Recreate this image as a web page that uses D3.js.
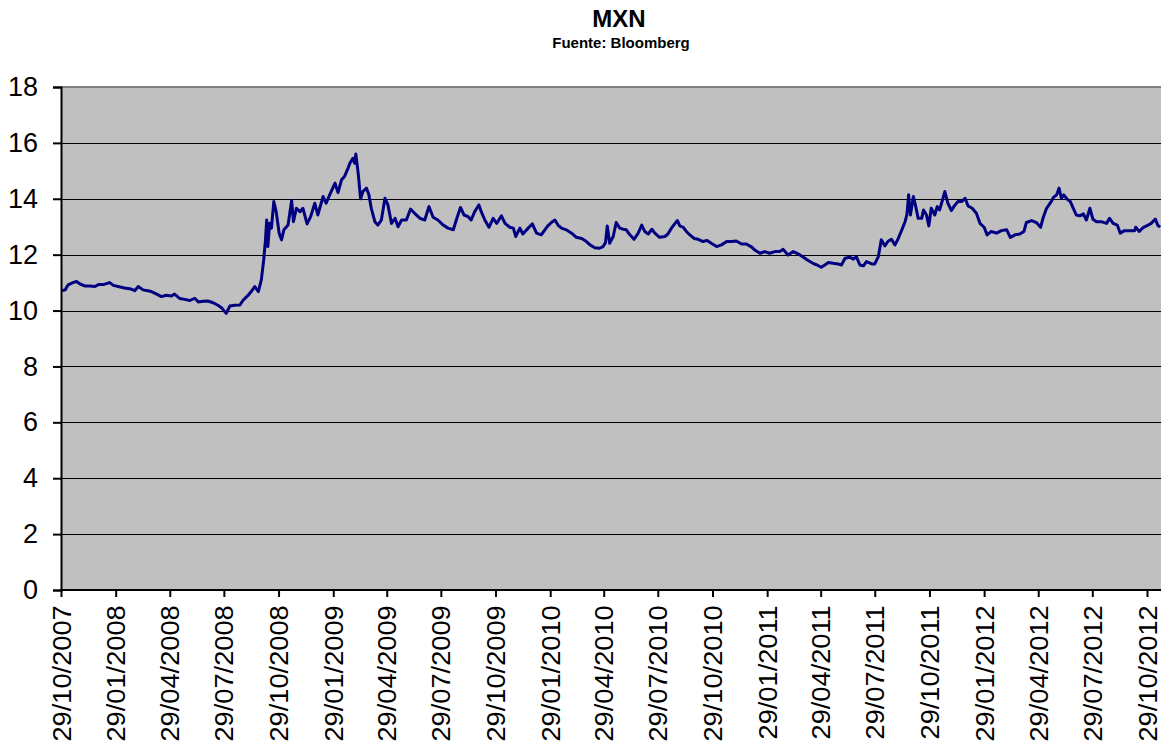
<!DOCTYPE html>
<html>
<head>
<meta charset="utf-8">
<script src="https://cdn.jsdelivr.net/npm/d3@7"></script>
<style>
  body { margin: 0; background: #fff; }
  svg { display: block; font-family: "Liberation Sans", Arial, sans-serif; }
</style>
</head>
<body>
<div id="chart"></div>
<script>

// MXN daily fixing (roughly weekly + peaks)
let dates = [
  "2007-10-29","2007-11-05","2007-11-10","2007-11-18","2007-11-24","2007-11-30","2007-12-08","2007-12-17","2007-12-25","2007-12-31",
  "2008-01-08","2008-01-19","2008-01-25","2008-02-02","2008-02-13","2008-02-24","2008-03-01","2008-03-07","2008-03-15","2008-03-23",
  "2008-03-29","2008-04-07","2008-04-15","2008-04-23","2008-05-02","2008-05-07","2008-05-16","2008-05-24","2008-06-02","2008-06-10",
  "2008-06-16","2008-06-24","2008-07-02","2008-07-11","2008-07-19","2008-07-25","2008-08-02","2008-08-08","2008-08-16","2008-08-25",
  "2008-08-30","2008-09-08","2008-09-13","2008-09-19","2008-09-25","2008-09-30","2008-10-04","2008-10-07","2008-10-09","2008-10-11",
  "2008-10-14","2008-10-17","2008-10-21","2008-10-25","2008-10-30","2008-11-03","2008-11-07","2008-11-14","2008-11-20","2008-11-23",
  "2008-11-28","2008-12-04","2008-12-09","2008-12-16","2008-12-22","2008-12-29","2009-01-03","2009-01-12","2009-01-17","2009-01-23",
  "2009-02-01","2009-02-06","2009-02-12","2009-02-17","2009-02-23","2009-02-26","2009-03-03","2009-03-06","2009-03-08","2009-03-12",
  "2009-03-16","2009-03-20","2009-03-26","2009-03-30","2009-04-03","2009-04-09","2009-04-14","2009-04-20","2009-04-26","2009-05-01",
  "2009-05-07","2009-05-13","2009-05-18","2009-05-24","2009-06-01","2009-06-08","2009-06-15","2009-06-24","2009-07-02","2009-07-09",
  "2009-07-16","2009-07-24","2009-08-02","2009-08-10","2009-08-19","2009-08-24","2009-08-31","2009-09-06","2009-09-13","2009-09-18",
  "2009-09-24","2009-10-01","2009-10-05","2009-10-11","2009-10-18","2009-10-25","2009-10-31","2009-11-08","2009-11-14","2009-11-22",
  "2009-11-28","2009-12-02","2009-12-09","2009-12-14","2009-12-23","2009-12-30","2010-01-06","2010-01-14","2010-01-20","2010-01-25",
  "2010-01-31","2010-02-06","2010-02-11","2010-02-17","2010-02-25","2010-03-06","2010-03-14","2010-03-23","2010-03-31","2010-04-06",
  "2010-04-14","2010-04-22","2010-04-28","2010-05-02","2010-05-05","2010-05-09","2010-05-15","2010-05-20","2010-05-26","2010-06-01",
  "2010-06-06","2010-06-12","2010-06-19","2010-06-26","2010-07-02","2010-07-07","2010-07-13","2010-07-19","2010-07-24","2010-08-01",
  "2010-08-10","2010-08-15","2010-08-21","2010-08-27","2010-08-31","2010-09-04","2010-09-10","2010-09-15","2010-09-21","2010-09-28",
  "2010-10-05","2010-10-13","2010-10-20","2010-10-27","2010-11-05","2010-11-13","2010-11-22","2010-11-30","2010-12-08","2010-12-17",
  "2010-12-25","2011-01-03","2011-01-08","2011-01-17","2011-01-25","2011-02-02","2011-02-11","2011-02-19","2011-02-25","2011-03-05",
  "2011-03-14","2011-03-22","2011-03-31","2011-04-08","2011-04-16","2011-04-23","2011-04-30","2011-05-06","2011-05-12","2011-05-20",
  "2011-05-28","2011-06-03","2011-06-09","2011-06-17","2011-06-23","2011-06-28","2011-07-04","2011-07-10","2011-07-15","2011-07-24",
  "2011-07-29","2011-08-04","2011-08-09","2011-08-15","2011-08-20","2011-08-26","2011-09-01","2011-09-06","2011-09-12","2011-09-18",
  "2011-09-21","2011-09-24","2011-09-27","2011-10-02","2011-10-06","2011-10-10","2011-10-16","2011-10-19","2011-10-24","2011-10-28",
  "2011-11-01","2011-11-07","2011-11-11","2011-11-15","2011-11-20","2011-11-24","2011-11-29","2011-12-05","2011-12-11","2011-12-16",
  "2011-12-22","2011-12-28","2012-01-02","2012-01-09","2012-01-16","2012-01-22","2012-01-29","2012-02-03","2012-02-10","2012-02-19",
  "2012-02-27","2012-03-07","2012-03-13","2012-03-21","2012-03-29","2012-04-05","2012-04-09","2012-04-18","2012-04-26","2012-05-03",
  "2012-05-07","2012-05-13","2012-05-20","2012-05-25","2012-05-30","2012-06-03","2012-06-07","2012-06-11","2012-06-17","2012-06-22",
  "2012-06-27","2012-07-02","2012-07-08","2012-07-14","2012-07-19","2012-07-25","2012-07-30","2012-08-05","2012-08-13","2012-08-22",
  "2012-08-27","2012-09-02","2012-09-09","2012-09-14","2012-09-21","2012-09-30","2012-10-08","2012-10-10","2012-10-16","2012-10-23",
  "2012-10-31","2012-11-05","2012-11-12","2012-11-16","2012-11-20"
];

let mxn = [
  10.71,10.74,10.92,11.00,11.04,10.95,10.88,10.88,10.86,10.93,
  10.93,11.00,10.90,10.86,10.81,10.77,10.71,10.86,10.74,10.71,
  10.68,10.59,10.50,10.55,10.52,10.59,10.43,10.40,10.36,10.44,
  10.31,10.33,10.34,10.28,10.19,10.10,9.90,10.16,10.19,10.20,
  10.36,10.55,10.68,10.86,10.68,11.10,11.81,12.53,13.24,12.29,
  13.12,12.95,13.90,13.54,12.77,12.53,12.89,13.06,13.94,13.18,
  13.66,13.54,13.66,13.10,13.36,13.84,13.42,14.08,13.84,14.14,
  14.56,14.22,14.68,14.80,15.10,15.27,15.45,15.27,15.60,14.91,
  14.00,14.26,14.38,14.14,13.66,13.18,13.06,13.24,14.02,13.78,
  13.12,13.30,13.00,13.24,13.24,13.63,13.48,13.30,13.24,13.72,
  13.34,13.24,13.06,12.95,12.89,13.24,13.69,13.42,13.36,13.24,
  13.54,13.78,13.54,13.24,12.98,13.30,13.12,13.39,13.12,12.98,
  12.95,12.65,12.95,12.74,12.95,13.10,12.77,12.71,12.89,13.03,
  13.15,13.24,13.06,12.95,12.89,12.77,12.62,12.58,12.47,12.35,
  12.25,12.23,12.29,12.43,13.03,12.41,12.65,13.15,12.95,12.91,
  12.89,12.71,12.55,12.77,13.06,12.83,12.74,12.91,12.77,12.62,
  12.65,12.74,12.95,13.12,13.22,13.03,12.98,12.83,12.71,12.58,
  12.55,12.47,12.51,12.41,12.29,12.35,12.47,12.47,12.49,12.38,
  12.38,12.27,12.17,12.05,12.11,12.05,12.11,12.11,12.19,11.99,
  12.11,12.03,11.91,11.79,11.69,11.63,11.55,11.63,11.72,11.69,
  11.67,11.63,11.87,11.91,11.84,11.93,11.63,11.60,11.75,11.67,
  11.67,11.93,12.53,12.31,12.47,12.55,12.35,12.55,12.86,13.18,
  13.42,14.14,13.42,14.08,13.72,13.30,13.30,13.60,13.42,13.03,
  13.66,13.42,13.72,13.60,13.96,14.26,13.84,13.58,13.78,13.90,
  13.90,14.02,13.74,13.66,13.48,13.12,12.98,12.71,12.83,12.77,
  12.86,12.89,12.62,12.71,12.74,12.83,13.15,13.22,13.15,12.98,
  13.30,13.66,13.87,14.06,14.14,14.38,14.02,14.14,13.98,13.90,
  13.66,13.42,13.39,13.46,13.24,13.66,13.27,13.18,13.18,13.12,
  13.30,13.12,13.06,12.77,12.86,12.86,12.86,12.98,12.83,12.98,
  13.06,13.12,13.27,13.06,12.98
];

let tickLabels = [
  "29/10/2007","29/01/2008","29/04/2008","29/07/2008","29/10/2008","29/01/2009","29/04/2009",
  "29/07/2009","29/10/2009","29/01/2010","29/04/2010","29/07/2010","29/10/2010","29/01/2011",
  "29/04/2011","29/07/2011","29/10/2011","29/01/2012","29/04/2012","29/07/2012","29/10/2012"
];

let yTicks = [0, 2, 4, 6, 8, 10, 12, 14, 16, 18];

let title = "MXN";
let subtitle = "Fuente: Bloomberg";

let width = 1161;
let height = 742;
let margin = { top: 87, right: 0, bottom: 152, left: 61 };

let parseIso = d3.utcParse("%Y-%m-%d");
let parseTick = d3.utcParse("%d/%m/%Y");
let fmtTick = d3.utcFormat("%d/%m/%Y");

let data = dates.map((d, i) => ({ date: parseIso(d), value: mxn[i] }));
let tickDates = tickLabels.map(parseTick);

let svg = d3.select("#chart").append("svg")
    .attr("width", width)
    .attr("height", height);

let plotW = width - margin.left - margin.right;
let plotH = height - margin.top - margin.bottom;

// first and last labelled dates set the scale, data runs a bit past the last one
let x = d3.scaleUtc()
    .domain([tickDates[0], tickDates[tickDates.length - 1]])
    .range([0, 1086]);

let y = d3.scaleLinear()
    .domain([0, 18])
    .range([plotH, 0]);

let g = svg.append("g")
    .attr("transform", "translate(" + margin.left + "," + margin.top + ")");

// plot background
g.append("rect")
    .attr("x", 0)
    .attr("y", 0)
    .attr("width", plotW + 10)
    .attr("height", plotH)
    .attr("fill", "#c0c0c0");

// gridlines
g.append("g")
    .selectAll("line")
    .data(yTicks.filter(d => d > 0 && d < 18))
    .enter().append("line")
    .attr("x1", 0)
    .attr("x2", plotW + 10)
    .attr("y1", d => Math.round(y(d)) + 0.5)
    .attr("y2", d => Math.round(y(d)) + 0.5)
    .attr("stroke", "#000")
    .attr("stroke-width", 1);

// top border
g.append("line")
    .attr("x1", 0).attr("x2", plotW + 10)
    .attr("y1", 0).attr("y2", 0)
    .attr("stroke", "#808080")
    .attr("stroke-width", 2);

// the series
let line = d3.line()
    .x(d => x(d.date))
    .y(d => y(d.value));

g.append("path")
    .datum(data)
    .attr("fill", "none")
    .attr("stroke", "#000080")
    .attr("stroke-width", 3)
    .attr("stroke-linejoin", "round")
    .attr("d", line);

// Y axis
let yAxis = g.append("g")
    .call(d3.axisLeft(y).tickValues(yTicks).tickSize(8).tickPadding(15).tickFormat(d3.format("d")));
yAxis.select(".domain").attr("stroke", "#000").attr("stroke-width", 2);
yAxis.selectAll(".tick line").attr("stroke", "#000").attr("stroke-width", 2);
yAxis.selectAll(".tick text")
    .attr("fill", "#000")
    .style("font-size", "27px")
    .style("font-family", "'Liberation Sans', Arial, sans-serif");

// X axis
let xAxis = g.append("g")
    .attr("transform", "translate(0," + plotH + ")")
    .call(d3.axisBottom(x).tickValues(tickDates).tickSize(7).tickSizeOuter(0).tickFormat(fmtTick));
xAxis.select(".domain")
    .attr("d", "M0,0H" + (plotW + 10))
    .attr("stroke", "#000")
    .attr("stroke-width", 2);
xAxis.selectAll(".tick line").attr("stroke", "#000").attr("stroke-width", 2);
xAxis.selectAll(".tick text")
    .attr("fill", "#000")
    .attr("x", -14)
    .attr("y", 0)
    .attr("dy", "0.36em")
    .attr("transform", "rotate(-90) scale(1.09,1)")
    .style("text-anchor", "end")
    .style("font-size", "25px")
    .style("font-family", "'Liberation Sans', Arial, sans-serif");

// titles
svg.append("text")
    .attr("x", 619)
    .attr("y", 27)
    .attr("text-anchor", "middle")
    .style("font-size", "24px")
    .style("font-weight", "bold")
    .text(title);

svg.append("text")
    .attr("x", 621)
    .attr("y", 48)
    .attr("text-anchor", "middle")
    .style("font-size", "15px")
    .style("font-weight", "bold")
    .text(subtitle);

</script>
</body>
</html>
